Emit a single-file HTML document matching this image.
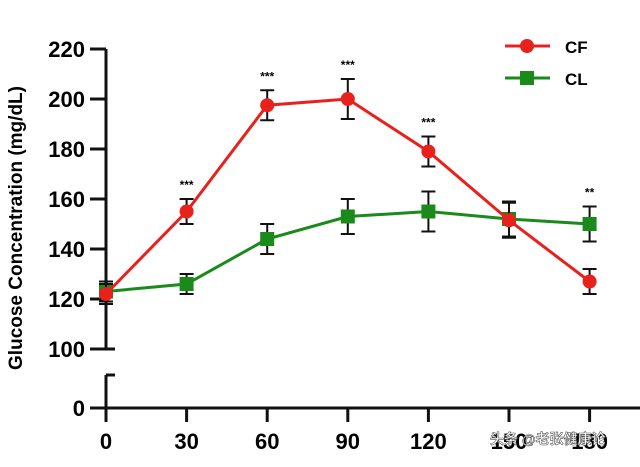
<!DOCTYPE html>
<html><head><meta charset="utf-8"><style>
body{margin:0;background:#fff;font-family:"Liberation Sans",Arial,sans-serif}
svg text{font-family:"Liberation Sans",Arial,sans-serif;font-weight:bold}
</style></head><body>
<svg id="chart" width="640" height="462" xmlns="http://www.w3.org/2000/svg">
<g id="axes"></g><g id="series"></g>
<g>
 <line x1="505" y1="46" x2="550" y2="46" stroke="#e8211d" stroke-width="3"/>
 <circle cx="527" cy="46" r="7" fill="#e8211d"/>
 <text x="565" y="53" font-size="17">CF</text>
 <line x1="505" y1="78" x2="550" y2="78" stroke="#1a8a1a" stroke-width="3"/>
 <rect x="520" y="71" width="14" height="14" fill="#1a8a1a"/>
 <text x="565" y="85" font-size="17">CL</text>
</g>
<text transform="translate(22,228) rotate(-90)" text-anchor="middle" font-size="19">Glucose Concentration (mg/dL)</text>
<text x="490" y="444" font-size="14" font-weight="normal" fill="#fff" stroke="#555" stroke-width="0.6" style="font-family:'Liberation Sans','Noto Sans CJK SC',sans-serif">头条 @老张健康论</text>
</svg>
<script>
const times=[0,30,60,90,120,150,180];
const cfVals=[122,155,197.5,200,179,151.5,127];
const cfErr=[4,5,6,8,6,7,5];
const clVals=[123,126,144,153,155,152,150];
const clErr=[4,4,6,7,8,7,7];
const sigLabels=["","***","***","***","***","","**"];
const yTicks=[100,120,140,160,180,200,220];
const NS="http://www.w3.org/2000/svg";
const x=t=>106+t*80.6/30;
const y=v=>349-(v-100)*2.5;
function mk(tag,at,parent){const e=document.createElementNS(NS,tag);for(const k in at)e.setAttribute(k,at[k]);parent.appendChild(e);return e;}
const ax=document.getElementById('axes'),se=document.getElementById('series');
const S={stroke:'#111','stroke-width':3};
mk('line',Object.assign({x1:106,y1:y(220),x2:106,y2:349},S),ax);
mk('line',Object.assign({x1:106,y1:349,x2:115,y2:349},S),ax);
mk('line',Object.assign({x1:106,y1:375,x2:106,y2:422},S),ax);
mk('line',Object.assign({x1:106,y1:375,x2:115,y2:375},S),ax);
mk('line',Object.assign({x1:90,y1:408,x2:640,y2:408},S),ax);
let t0=mk('text',{x:85,y:416,'text-anchor':'end','font-size':22},ax);t0.textContent='0';


yTicks.forEach(v=>{
 mk('line',Object.assign({x1:90,y1:y(v),x2:106,y2:y(v)},S),ax);
 const t=mk('text',{x:85,y:y(v)+8,'text-anchor':'end','font-size':22},ax);
 t.textContent=v;
 
 
});
times.forEach(tm=>{
 mk('line',Object.assign({x1:x(tm),y1:408,x2:x(tm),y2:422},S),ax);
 const t=mk('text',{x:x(tm),y:449,'text-anchor':'middle','font-size':22},ax);
 t.textContent=tm;
 
 
});
function series(vals,err,col,shape,name){
 const g=mk('g',{},se);
 
 
 vals.forEach((v,i)=>{const cx=x(times[i]);
  mk('line',{x1:cx,y1:y(v-err[i]),x2:cx,y2:y(v+err[i]),stroke:'#111','stroke-width':2},g);
  [v-err[i],v+err[i]].forEach(e=>mk('line',{x1:cx-7,y1:y(e),x2:cx+7,y2:y(e),stroke:'#111','stroke-width':2},g));
 });
 mk('polyline',{points:vals.map((v,i)=>x(times[i])+','+y(v)).join(' '),fill:'none',stroke:col,'stroke-width':3},g);
 vals.forEach((v,i)=>{let m;
  if(shape==='c')m=mk('circle',{cx:x(times[i]),cy:y(v),r:7,fill:col},g);
  else m=mk('rect',{x:x(times[i])-7,y:y(v)-7,width:14,height:14,fill:col},g);
  
  
 });
}
series(clVals,clErr,'#1a8a1a','s','cl-series');
series(cfVals,cfErr,'#e8211d','c','cf-series');
sigLabels.forEach((s,i)=>{if(!s)return;
 const top=Math.max(cfVals[i]+cfErr[i],clVals[i]+clErr[i]);
 const t=mk('text',{x:x(times[i]),y:y(top)-10,'text-anchor':'middle','font-size':12,'font-weight':'normal'},se);
 t.textContent=s;
 
 
});
</script>
</body></html>
